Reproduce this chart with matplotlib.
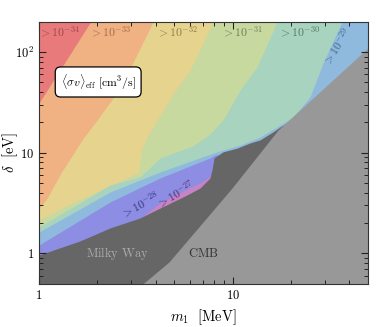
import numpy as np
import matplotlib as mpl
mpl.use("Agg")
import matplotlib.pyplot as plt
from matplotlib.ticker import FixedLocator, FixedFormatter, NullFormatter

mpl.rcParams['mathtext.fontset'] = 'cm'
mpl.rcParams['font.family'] = 'serif'
mpl.rcParams['font.serif'] = ['cmr10', 'DejaVu Serif']
mpl.rcParams['axes.unicode_minus'] = False

# band boundaries (m1 [MeV], delta [eV]); region below/right of each curve
m_34 = [1.0, 1.85, 50]
d_34 = [31.2, 200, 200]
m_33 = [1.0, 1.087, 1.239, 1.299, 1.668, 1.994, 2.653, 3.884, 50]
d_33 = [2.82, 3.39, 5.36, 6.29, 13.4, 21.1, 44.9, 200, 200]
m_32 = [1.0, 1.481, 2.220, 3.287, 3.367, 3.659, 4.323, 4.868, 6.031, 7.927, 50]
d_32 = [2.15, 3.17, 4.46, 6.43, 10.6, 15.0, 25.4, 37.4, 66.3, 200, 200]
m_31 = [1.0, 2.328, 3.327, 4.221, 6.250, 7.648, 8.930, 10.94, 13.38, 16.98, 50]
d_31 = [1.83, 4.78, 5.74, 8.86, 11.7, 15.3, 21.1, 41.9, 71.0, 200, 200]
m_30 = [1.0, 2.328, 4.221, 8.315, 10.94, 13.87, 16.98, 20.54, 25.15, 29.36, 36.81, 50]
d_30 = [1.63, 4.07, 6.43, 10.2, 11.9, 14.3, 18.0, 22.6, 35.7, 77.8, 200, 200]
m_29 = [1.0, 2.328, 4.221, 7.648, 8.1, 13.87, 50]
d_29 = [1.21, 3.24, 5.61, 8.86, 9.49, 10.6, 10.6]
m_28 = [1.0, 2.953, 4.221, 5.820, 6.792, 7.834, 13.87, 50]
d_28 = [0.767, 1.87, 3.17, 4.36, 5.00, 6.00, 7.55, 7.55]

# excluded regions
m_mw = [1.0, 1.629, 2.328, 3.327, 4.221, 5.682, 6.792, 7.648, 7.834, 8.023,
        8.930, 10.55, 12.31, 13.87, 16.19, 17.60, 22.33, 50]
d_mw = [0.964, 1.33, 1.79, 2.25, 2.82, 3.72, 4.46, 5.61, 6.73, 8.86,
        10.2, 11.1, 12.5, 13.4, 16.1, 18.0, 23.7, 66.3]
m_cmb = [3.448, 4.697, 9.940, 17.19, 50]
d_cmb = [0.5, 0.822, 4.46, 16.8, 109.6]

exps = [-34, -33, -32, -31, -30, -29, -28, -27]
band_colors = ["#e97a7c", "#f0b183", "#e6d38d", "#c8d9a0",
               "#a7d3bf", "#90b9de", "#8d8de3", "#c683c6"]
label_colors = ["#8e3e40", "#955f3c", "#7d6f40", "#5f6f4c",
                "#456a58", "#34587c", "#24246e", "#4e1a50"]

xmin, xmax = 1, 50
ymin, ymax = 0.5, 200

fig = plt.figure(figsize=(3.9, 3.27), dpi=100)
ax = fig.add_axes([0.1, 0.1324, 0.843, 0.8012])
ax.set_xscale("log")
ax.set_yscale("log")

ax.fill_between([xmin, xmax], ymax, ymin, color=band_colors[0], lw=0)
bounds = [(m_34, d_34), (m_33, d_33), (m_32, d_32), (m_31, d_31),
          (m_30, d_30), (m_29, d_29), (m_28, d_28)]
for (mm, dd), c in zip(bounds, band_colors[1:]):
    ax.fill_between(mm, dd, ymin, color=c, lw=0)

ax.fill_between(m_mw, d_mw, ymin, color="#666666", lw=0)
ax.fill_between(m_cmb, d_cmb, ymin, color="#989898", lw=0)

ax.set_xlim(xmin, xmax)
ax.set_ylim(ymin, ymax)

# labels of the bands
top_pos = [(0.060, 0.957), (0.215, 0.957), (0.419, 0.957), (0.617, 0.957),
           (0.790, 0.957), (0.907, 0.902), (0.307, 0.300), (0.414, 0.339)]
rots = [0, 0, 0, 0, 0, 57, 28, 30]
for e, (px, py), r, c in zip(exps, top_pos, rots, label_colors):
    ax.text(px, py, r"$>10^{%d}$" % e, transform=ax.transAxes, fontsize=8.5,
            color=c, alpha=0.85, ha="center", va="center", rotation=r)

ax.text(0.180, 0.770, r"$\langle\sigma v\rangle_{\rm eff}\ [{\rm cm}^3/{\rm s}]$",
        transform=ax.transAxes, fontsize=8.5, ha="center", va="center",
        bbox=dict(boxstyle="round,pad=0.45", fc="white", ec="black", lw=0.9))
ax.text(0.237, 0.117, r"$\rm Milky\ Way$", transform=ax.transAxes, fontsize=9,
        color="#ababab", ha="center", va="center")
ax.text(0.499, 0.117, r"$\rm CMB$", transform=ax.transAxes, fontsize=9,
        color="#333333", ha="center", va="center")

# ticks
ax.xaxis.set_major_locator(FixedLocator([1, 10]))
ax.xaxis.set_major_formatter(FixedFormatter([r"$1$", r"$10$"]))
ax.xaxis.set_minor_locator(FixedLocator([2, 3, 4, 5, 6, 7, 8, 9, 20, 30, 40, 50]))
ax.xaxis.set_minor_formatter(NullFormatter())
ax.yaxis.set_major_locator(FixedLocator([1, 10, 100]))
ax.yaxis.set_major_formatter(FixedFormatter([r"$1$", r"$10$", r"$10^2$"]))
ax.yaxis.set_minor_locator(FixedLocator([0.6, 0.7, 0.8, 0.9, 2, 3, 4, 5, 6, 7, 8, 9,
                                         20, 30, 40, 50, 60, 70, 80, 90, 200]))
ax.yaxis.set_minor_formatter(NullFormatter())
ax.tick_params(which="both", direction="in", top=True, right=True,
               color="#222222", labelsize=9)
ax.tick_params(which="major", length=5, width=0.8)
ax.tick_params(which="minor", length=3, width=0.7)
for s in ax.spines.values():
    s.set_color("#333333")
    s.set_linewidth(0.8)

ax.set_xlabel(r"$m_1\ \ [{\rm MeV}]$", fontsize=10.5)
ax.set_ylabel(r"$\delta\ \ [{\rm eV}]$", fontsize=10.5)
ax.yaxis.set_label_coords(-0.058, 0.5)

plt.savefig("out.png", dpi=100)
plt.close("all")
